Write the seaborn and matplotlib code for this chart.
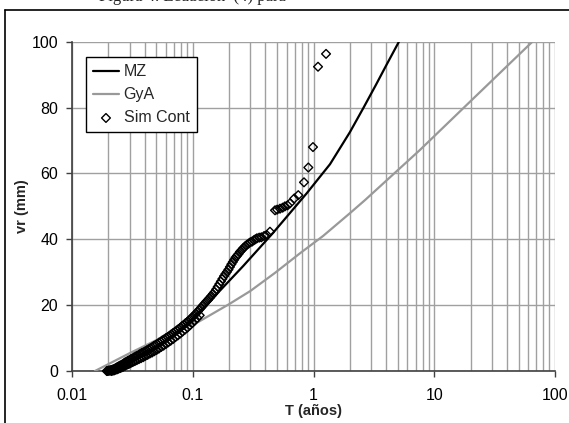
import numpy as np
import pandas as pd
import matplotlib
matplotlib.use("Agg")
import matplotlib.pyplot as plt
from matplotlib.lines import Line2D
from matplotlib.ticker import FixedLocator, FixedFormatter, LogLocator, NullFormatter
import seaborn as sns

# curves
mz_t = [0.0194, 0.03, 0.044, 0.065, 0.08, 0.1, 0.125, 0.168, 0.262, 0.464, 0.88, 1.37, 2.0, 2.6, 3.3, 4.0, 5.1]
mz_vr = [0, 3.0, 6.2, 10.2, 12.8, 15.8, 19.3, 24.4, 31.9, 42.0, 54.0, 62.8, 72.5, 80.0, 87.0, 92.8, 100]

gya_t = [0.0155, 0.03, 0.057, 0.11, 0.2, 0.3, 0.48, 0.77, 1.2, 2.0, 2.67, 7.6, 19.8, 65]
gya_vr = [0, 5.4, 10.4, 14.8, 20.3, 24.3, 29.8, 35.7, 41.0, 47.9, 51.9, 67.1, 81.8, 100]

sim_t = [0.0194, 0.0197, 0.0200, 0.0203, 0.0206, 0.0209, 0.0212, 0.0216, 0.0220, 0.0224,
         0.0228, 0.0233, 0.0238, 0.0243, 0.0249, 0.0255, 0.0261, 0.0268, 0.0275, 0.0282,
         0.0290, 0.0298, 0.0307, 0.0316, 0.0325, 0.0335, 0.0345, 0.0356, 0.0367, 0.0379,
         0.0391, 0.0404, 0.0417, 0.0431, 0.0445, 0.0460, 0.0475, 0.0491, 0.0507, 0.0524,
         0.0542, 0.0560, 0.0579, 0.0599, 0.0620, 0.0641, 0.0663, 0.0686, 0.0710, 0.0735,
         0.0760, 0.0786, 0.0813, 0.0841, 0.0870, 0.0900, 0.0931, 0.0963, 0.0996, 0.1030,
         0.1065, 0.1101, 0.1138, 0.1176, 0.1215, 0.1255, 0.1296, 0.1338, 0.1381, 0.1425,
         0.1470, 0.1516, 0.1563, 0.1611, 0.1660, 0.1710, 0.1761, 0.1813, 0.1866, 0.1920,
         0.1975, 0.2031, 0.2088, 0.2146, 0.2205, 0.2265, 0.2326, 0.2390, 0.2460, 0.2540,
         0.2620, 0.2700, 0.2800, 0.2900, 0.3000, 0.3100, 0.3200, 0.3300, 0.3400, 0.3550,
         0.3700, 0.3900, 0.4100, 0.4360,
         0.480, 0.500, 0.528, 0.555, 0.580, 0.610, 0.638, 0.693, 0.748, 0.834, 0.906,
         0.99, 1.09, 1.27,
         0.0212, 0.0218, 0.0224, 0.0230, 0.0236, 0.0243, 0.0251, 0.0258, 0.0266, 0.0276,
         0.0285, 0.0295, 0.0306, 0.0318, 0.0331, 0.0344, 0.0358, 0.0373, 0.0389, 0.0405,
         0.0422, 0.0441, 0.0460, 0.0480, 0.0502, 0.0524, 0.0548, 0.0573, 0.0599, 0.0627,
         0.0656, 0.0686, 0.0718, 0.0752, 0.0788, 0.0825, 0.0864, 0.0905, 0.0948, 0.0993,
         0.1040, 0.1090, 0.1142]
sim_vr = [0.0, 0.0, 0.1, 0.1, 0.2, 0.2, 0.3, 0.4, 0.5, 0.6,
          0.8, 1.0, 1.2, 1.4, 1.6, 1.8, 2.0, 2.3, 2.6, 2.8,
          3.1, 3.3, 3.6, 3.8, 4.1, 4.4, 4.6, 4.9, 5.2, 5.5,
          5.7, 6.0, 6.3, 6.6, 6.9, 7.2, 7.6, 7.9, 8.2, 8.6,
          8.9, 9.3, 9.6, 10.0, 10.3, 10.7, 11.1, 11.5, 11.9, 12.3,
          12.7, 13.1, 13.6, 14.0, 14.5, 14.9, 15.4, 15.9, 16.4, 17.0,
          17.5, 18.1, 18.7, 19.3, 19.9, 20.5, 21.1, 21.6, 22.2, 22.8,
          23.4, 24.0, 24.8, 25.6, 26.4, 27.2, 28.0, 28.8, 29.5, 30.1,
          30.8, 31.6, 32.4, 33.1, 33.8, 34.5, 35.0, 35.5, 36.2, 36.7,
          37.3, 37.8, 38.3, 38.7, 39.1, 39.3, 39.7, 40.0, 40.3, 40.5,
          40.6, 41.0, 41.3, 42.3,
          48.8, 49.0, 49.3, 49.6, 50.0, 50.3, 50.9, 52.4, 53.4, 57.3, 61.8,
          68.0, 92.4, 96.3,
          0.0, 0.1, 0.2, 0.4, 0.5, 0.7, 0.9, 1.1, 1.3, 1.6,
          1.9, 2.1, 2.4, 2.7, 3.0, 3.3, 3.6, 3.9, 4.2, 4.6,
          4.9, 5.3, 5.6, 6.0, 6.4, 6.8, 7.3, 7.7, 8.2, 8.7,
          9.2, 9.7, 10.3, 10.8, 11.4, 12.0, 12.6, 13.2, 13.9, 14.6,
          15.3, 16.1, 16.9]

x_ticks = [0.01, 0.1, 1, 10, 100]
x_tick_labels = ["0.01", "0.1", "1", "10", "100"]
y_ticks = [0, 20, 40, 60, 80, 100]

mz_df = pd.DataFrame({"T": mz_t, "vr": mz_vr})
gya_df = pd.DataFrame({"T": gya_t, "vr": gya_vr})
sim_df = pd.DataFrame({"T": sim_t, "vr": sim_vr})

sns.set_style("white")
plt.rcParams["font.family"] = ["Liberation Sans", "DejaVu Sans"]

fig = plt.figure(figsize=(5.69, 4.23), dpi=100)
ax = fig.add_axes([72 / 569, 1 - 371 / 423, (555 - 72) / 569, (371 - 41.7) / 423])

grid_c = "#a0a0a0"
ax.set_xscale("log")
ax.set_xlim(0.01, 100)
ax.set_ylim(0, 100)

sns.lineplot(data=gya_df, x="T", y="vr", ax=ax, color="#999999", linewidth=1.6,
             label="GyA", sort=False, zorder=3)
sns.lineplot(data=mz_df, x="T", y="vr", ax=ax, color="black", linewidth=1.6,
             label="MZ", sort=False, zorder=4)
sns.scatterplot(data=sim_df, x="T", y="vr", ax=ax, marker="D", s=20,
                facecolor="none", edgecolor="black", linewidth=1.0,
                label="Sim Cont", zorder=5, clip_on=False)

ax.xaxis.set_major_locator(FixedLocator(x_ticks))
ax.xaxis.set_major_formatter(FixedFormatter(x_tick_labels))
ax.xaxis.set_minor_locator(LogLocator(base=10, subs=np.arange(2, 10)))
ax.xaxis.set_minor_formatter(NullFormatter())
ax.set_yticks(y_ticks)

ax.grid(True, which="major", axis="both", color=grid_c, linewidth=1)
ax.grid(True, which="minor", axis="x", color=grid_c, linewidth=1)
ax.set_axisbelow(True)

for s in ["top", "right"]:
    ax.spines[s].set_visible(False)
for s in ["left", "bottom"]:
    ax.spines[s].set_color("#404040")
    ax.spines[s].set_linewidth(1.2)

ax.tick_params(axis="both", which="major", direction="out", length=4, width=1,
               color="#404040", labelsize=11.5, labelcolor="black", left=True, bottom=True)
ax.tick_params(axis="x", which="major", pad=8)
ax.tick_params(axis="y", which="major", pad=6)
ax.tick_params(axis="x", which="minor", length=0)

ax.set_xlabel("T (años)", fontsize=10.5, fontweight="bold", labelpad=1)
ax.set_ylabel("vr (mm)", fontsize=10.5, fontweight="bold", va="center")
ax.yaxis.set_label_coords(-50 / 483, 0.5)

handles, labels = ax.get_legend_handles_labels()
order = [labels.index("MZ"), labels.index("GyA"), labels.index("Sim Cont")]
leg = ax.legend([handles[i] for i in order], [labels[i] for i in order],
                loc="upper left", bbox_to_anchor=(86 / 569, 1 - 57 / 423),
                bbox_transform=fig.transFigure, fontsize=11.5, frameon=True,
                fancybox=False, edgecolor="black", framealpha=1,
                borderpad=0.45, labelspacing=0.5, handlelength=1.6,
                handletextpad=0.3, borderaxespad=0)
leg.get_frame().set_linewidth(1.0)

# frame of the chart area and clipped caption above it
fig.add_artist(Line2D([5 / 569, 1.0], [1 - 10 / 423, 1 - 10 / 423], color="black", linewidth=1.2))
fig.add_artist(Line2D([5 / 569, 5 / 569], [0.0, 1 - 10 / 423], color="black", linewidth=1.2))
fig.text(99 / 569, 1 - 1 / 423, "Figura 4. Ecuación  (4) para", family="Liberation Serif",
         fontsize=12, va="baseline", ha="left")

fig.savefig("out.png", dpi=100)
